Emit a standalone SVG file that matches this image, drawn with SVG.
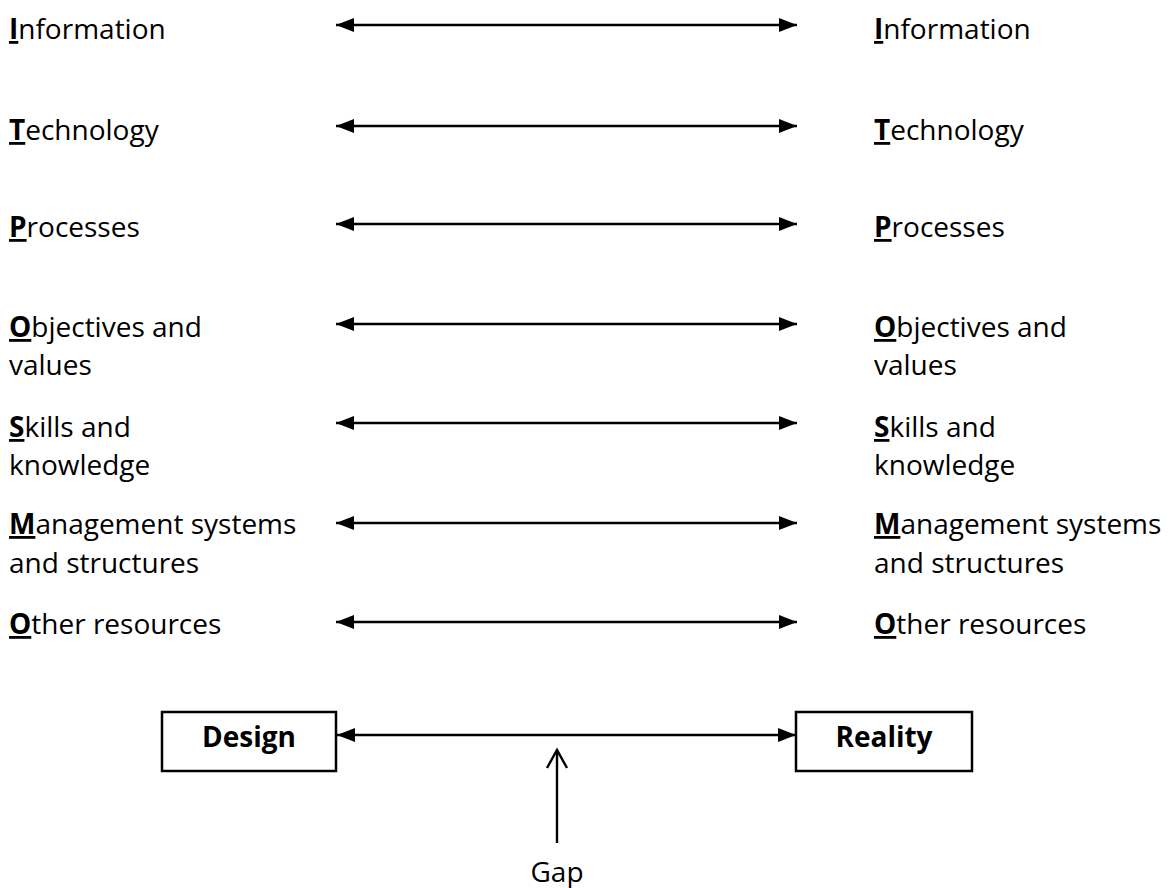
<svg xmlns="http://www.w3.org/2000/svg" width="1174" height="888" viewBox="0 0 1174 888">
<style>
text{font-family:"Open Sans","Liberation Sans",sans-serif;font-size:28px;fill:#000}
.k{font-weight:bold;text-decoration:underline}
.b{font-weight:bold}
.c{text-anchor:middle}
.ln{stroke:#000;stroke-width:2.4;fill:none}
.bx{stroke:#000;stroke-width:2.5;fill:#fff}
</style>
<defs>
<marker id="ah" markerUnits="userSpaceOnUse" markerWidth="18" markerHeight="16" refX="18" refY="8" orient="auto-start-reverse">
<path d="M0,1 L18,8 L0,15 z" fill="#000"/>
</marker>
</defs>
<rect width="1174" height="888" fill="#fff"/>
<g id="left">
<g id="l-info"><text x="9" y="39"><tspan class="k">I</tspan>nformation</text></g>
<g id="l-tech"><text x="9" y="140"><tspan class="k">T</tspan>echnology</text></g>
<g id="l-proc"><text x="9" y="237"><tspan class="k">P</tspan>rocesses</text></g>
<g id="l-obj"><text x="9" y="337"><tspan class="k">O</tspan>bjectives and</text><text x="9" y="375">values</text></g>
<g id="l-skill"><text x="9" y="437"><tspan class="k">S</tspan>kills and</text><text x="9" y="475">knowledge</text></g>
<g id="l-mgmt"><text x="9" y="534"><tspan class="k">M</tspan>anagement systems</text><text x="9" y="573">and structures</text></g>
<g id="l-other"><text x="9" y="634"><tspan class="k">O</tspan>ther resources</text></g>
</g>
<g id="right">
<g id="r-info"><text x="874" y="39"><tspan class="k">I</tspan>nformation</text></g>
<g id="r-tech"><text x="874" y="140"><tspan class="k">T</tspan>echnology</text></g>
<g id="r-proc"><text x="874" y="237"><tspan class="k">P</tspan>rocesses</text></g>
<g id="r-obj"><text x="874" y="337"><tspan class="k">O</tspan>bjectives and</text><text x="874" y="375">values</text></g>
<g id="r-skill"><text x="874" y="437"><tspan class="k">S</tspan>kills and</text><text x="874" y="475">knowledge</text></g>
<g id="r-mgmt"><text x="874" y="534"><tspan class="k">M</tspan>anagement systems</text><text x="874" y="573">and structures</text></g>
<g id="r-other"><text x="874" y="634"><tspan class="k">O</tspan>ther resources</text></g>
</g>
<g id="design"><rect class="bx" x="162" y="712" width="174" height="59"/><text class="b c" x="249" y="747">Design</text></g>
<g id="reality"><rect class="bx" x="796" y="712" width="176" height="59"/><text class="b c" x="884" y="747">Reality</text></g>
<g id="gap"><text class="c" x="557" y="882">Gap</text></g>
<g id="connectors">
<line class="ln" x1="336" y1="25" x2="797" y2="25" marker-start="url(#ah)" marker-end="url(#ah)"/>
<line class="ln" x1="336" y1="126" x2="797" y2="126" marker-start="url(#ah)" marker-end="url(#ah)"/>
<line class="ln" x1="336" y1="224" x2="797" y2="224" marker-start="url(#ah)" marker-end="url(#ah)"/>
<line class="ln" x1="336" y1="324" x2="797" y2="324" marker-start="url(#ah)" marker-end="url(#ah)"/>
<line class="ln" x1="336" y1="423" x2="797" y2="423" marker-start="url(#ah)" marker-end="url(#ah)"/>
<line class="ln" x1="336" y1="523" x2="797" y2="523" marker-start="url(#ah)" marker-end="url(#ah)"/>
<line class="ln" x1="336" y1="622" x2="797" y2="622" marker-start="url(#ah)" marker-end="url(#ah)"/>
<line class="ln" x1="337" y1="735" x2="796" y2="735" marker-start="url(#ah)" marker-end="url(#ah)"/>
<line class="ln" x1="557" y1="750" x2="557" y2="843"/>
<polyline class="ln" points="547,768 557,750 567,768"/>
</g>
</svg>
